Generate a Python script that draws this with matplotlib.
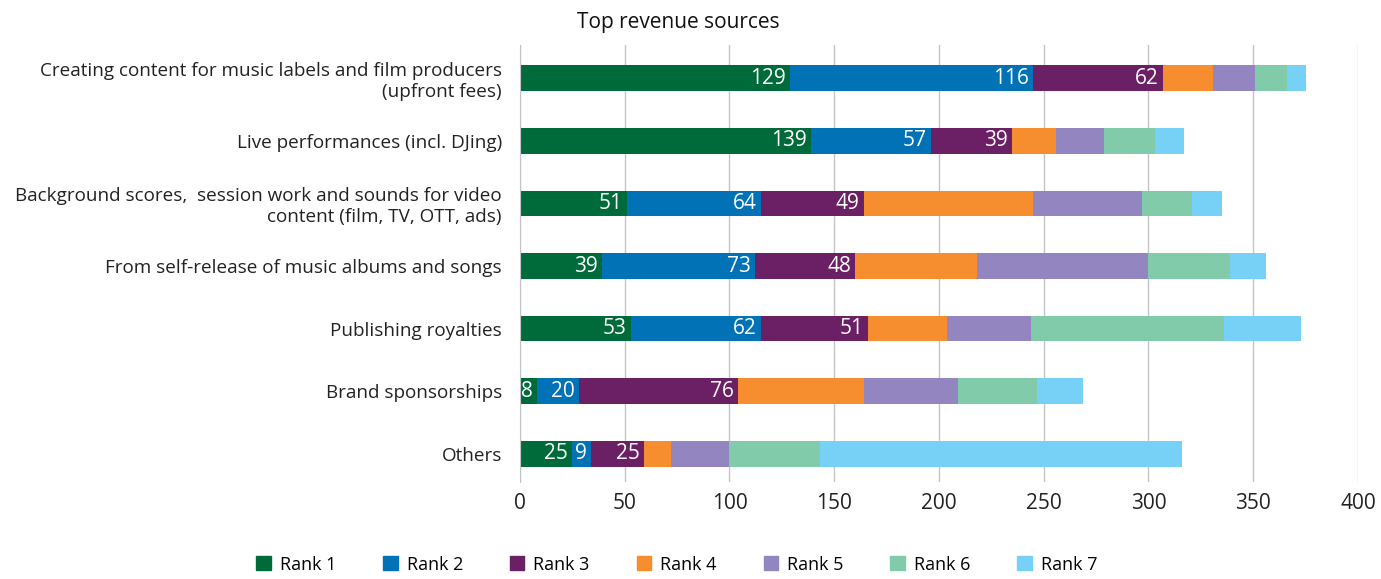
import matplotlib.pyplot as plt
from matplotlib.patches import Patch
import numpy as np

categories = [
    "Creating content for music labels and film producers\n(upfront fees)",
    "Live performances (incl. DJing)",
    "Background scores,  session work and sounds for video\ncontent (film, TV, OTT, ads)",
    "From self-release of music albums and songs",
    "Publishing royalties",
    "Brand sponsorships",
    "Others",
]
rank_names = ["Rank 1", "Rank 2", "Rank 3", "Rank 4", "Rank 5", "Rank 6", "Rank 7"]
rank1 = [129, 139, 51, 39, 53, 8, 25]
rank2 = [116, 57, 64, 73, 62, 20, 9]
rank3 = [62, 39, 49, 48, 51, 76, 25]
rank4 = [24, 21, 81, 58, 38, 60, 13]
rank5 = [20, 23, 52, 82, 40, 45, 28]
rank6 = [15, 24, 24, 39, 92, 38, 43]
rank7 = [9, 14, 14, 17, 37, 22, 173]
series = [rank1, rank2, rank3, rank4, rank5, rank6, rank7]
colors = ["#006b3a", "#0072b5", "#6b1f64", "#f68d2e", "#9386c0", "#82cbaa", "#77d0f6"]
labelled = 3  # only first three ranks carry value labels

plt.rcParams['font.family'] = ['Open Sans', 'DejaVu Sans']

fig = plt.figure(figsize=(13.81, 5.79), dpi=100)
ax = fig.add_axes([0.3765, 0.1675, 0.6068, 0.7548])

y = np.arange(len(categories))
left = np.zeros(len(categories))
for i, (vals, col) in enumerate(zip(series, colors)):
    vals = np.array(vals, dtype=float)
    ax.barh(y, vals, left=left, height=0.41, color=col, label=rank_names[i], zorder=3)
    if i < labelled:
        for yy, l, v in zip(y, left, vals):
            ax.annotate(f"{int(v)}", (l + v, yy), xytext=(-3, 0), textcoords="offset points",
                        ha='right', va='center', color='white', fontsize=15, zorder=4)
    left += vals

ax.set_xlim(0, 400)
ax.set_ylim(6.45, -0.53)
ax.set_xticks(range(0, 401, 50))
ax.set_yticks(y)
ax.set_yticklabels(categories, fontsize=13.6, color='#222222', linespacing=1.2)
ax.tick_params(axis='x', labelsize=15, length=0, pad=8, colors='#222222')
ax.tick_params(axis='y', length=0, pad=13)
ax.grid(axis='x', color='#c4c4c8', linewidth=1, zorder=0)
for s in ['top', 'right', 'bottom']:
    ax.spines[s].set_visible(False)
ax.spines['left'].set_color('#c4c4c8')
ax.spines['left'].set_zorder(5)

fig.text(0.491, 0.962, "Top revenue sources", ha='center', va='center', fontsize=15, color='#111111')

handles = [Patch(color=c, label=n) for c, n in zip(colors, rank_names)]
fig.legend(handles=handles, loc='center', bbox_to_anchor=(0.49, 0.025), ncol=7, frameon=False,
           fontsize=13, handlelength=0.8, handleheight=0.8, columnspacing=2.6, handletextpad=0.5)

fig.savefig("out.png", dpi=100)
